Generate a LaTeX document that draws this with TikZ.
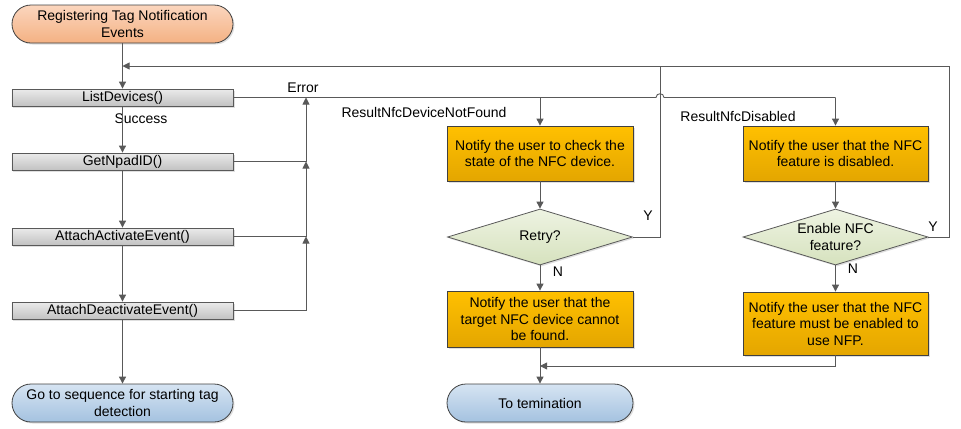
\documentclass[tikz,border=0pt]{standalone}
\usepackage{fontspec}
\setmainfont{Liberation Sans}
\usetikzlibrary{arrows.meta,shapes.geometric,shadows}
\definecolor{lineC}{HTML}{595959}
\definecolor{tipC}{HTML}{404040}
\tikzset{
  base/.style={draw=tipC, line width=0.8bp, inner sep=0pt, align=center,
    font=\fontsize{14bp}{16.5bp}\selectfont,
    drop shadow={opacity=0.25, shadow xshift=1.5bp, shadow yshift=-1.5bp}},
  procbox/.style={base, draw=lineC, rectangle, minimum width=221bp, minimum height=17bp,
    top color=white!92!black, bottom color=white!76!black},
  actbox/.style={base, rectangle, minimum width=186bp,
    top color={rgb,255:red,255;green,192;blue,0}, bottom color={rgb,255:red,228;green,166;blue,0}},
  startpill/.style={base, rectangle, rounded corners=19bp, minimum width=221bp, minimum height=38bp,
    top color={rgb,255:red,251;green,214;blue,190}, bottom color={rgb,255:red,244;green,177;blue,131}},
  endpill/.style={base, rectangle, rounded corners=19bp, minimum height=38bp,
    top color={rgb,255:red,214;green,228;blue,242}, bottom color={rgb,255:red,164;green,194;blue,224}},
  decide/.style={base, draw=lineC, diamond, aspect=3.3, minimum width=185bp, minimum height=56bp,
    top color={rgb,255:red,238;green,243;blue,226}, bottom color={rgb,255:red,214;green,226;blue,190}},
  conn/.style={draw=lineC, line width=0.9bp},
  arr/.style={conn, -{Triangle[length=7bp,width=7bp]}},
  lbl/.style={inner sep=0pt, font=\fontsize{14bp}{16bp}\selectfont},
}
\begin{document}
\begin{tikzpicture}[x=1bp,y=-1bp]
\useasboundingbox (0,0) rectangle (961,428);
% left column
\node[startpill] (start) at (122.5,24) {Registering Tag Notification\\Events};
\node[procbox] (ld) at (122.5,97.5) {ListDevices()};
\node[procbox] (gn) at (122.5,161.5) {GetNpadID()};
\node[procbox] (aa) at (122.5,236.5) {AttachActivateEvent()};
\node[procbox] (ad) at (122.5,310.5) {AttachDeactivateEvent()};
\node[endpill, minimum width=221bp] (endL) at (122.5,403) {Go to sequence for starting tag\\detection};
% middle column
\node[actbox, minimum height=55bp] (b1) at (540,153.5) {Notify the user to check the\\state of the NFC device.};
\node[decide] (d1) at (540,237) {Retry?};
\node[actbox, minimum height=56bp] (b3) at (540,319) {Notify the user that the\\target NFC device cannot\\be found.};
\node[endpill, minimum width=186bp] (endR) at (540,403) {To temination};
% right column
\node[actbox, minimum width=185bp, minimum height=55bp] (b2) at (835.5,153.5) {Notify the user that the NFC\\feature is disabled.};
\node[decide] (d2) at (835.5,237) {Enable NFC\\feature?};
\node[actbox, minimum width=185bp, minimum height=63bp] (b4) at (835.5,323.5) {Notify the user that the NFC\\feature must be enabled to\\use NFP.};
% helper coordinates
\coordinate (loopTop) at (122.5,66);
\coordinate (colX) at (306,0);
\coordinate (jumpX) at (660,0);
\coordinate (rightX) at (949,0);
\coordinate (merge) at (540,366);
% labels
\node[lbl] (lsucc) at (141,119) {Success};
\node[lbl] (lerr) at (303,88) {Error};
\node[lbl] (lnf) at (424,112) {ResultNfcDeviceNotFound};
\node[lbl] (ldis) at (738,116) {ResultNfcDisabled};
\node[lbl] (ly1) at (648,216) {Y};
\node[lbl] (ln1) at (558,272) {N};
\node[lbl] (ly2) at (933,227) {Y};
\node[lbl] (ln2) at (853,269) {N};
% main flow
\draw[arr] (start.south) -- (ld.north);
\draw[arr] (ld.south) -- (gn.north);
\draw[arr] (gn.south) -- (aa.north);
\draw[arr] (aa.south) -- (ad.north);
\draw[arr] (ad.south) -- (endL.north);
% error collectors
\draw[arr] (ad.east) -- (colX |- ad.east) -- (colX |- aa.east);
\draw[arr] (aa.east) -- (colX |- aa.east) -- (colX |- gn.east);
\draw[arr] (gn.east) -- (colX |- gn.east) -- (colX |- ld.east);
% error line to the right with a jump
\draw[conn] (ld.east) -- ([xshift=-4bp]jumpX |- ld.east)
  .. controls ([xshift=-4bp,yshift=5bp]jumpX |- ld.east) and ([xshift=4bp,yshift=5bp]jumpX |- ld.east) .. ([xshift=4bp]jumpX |- ld.east)
  -- (b2.north |- ld.east);
\draw[arr] (b2.north |- ld.east) -- (b2.north);
\draw[arr] (b1.north |- ld.east) -- (b1.north);
% middle column flow
\draw[arr] (b1.south) -- (d1.north);
\draw[arr] (d1.south) -- (b3.north);
\draw[arr] (b3.south) -- (endR.north);
% right column flow
\draw[arr] (b2.south) -- (d2.north);
\draw[arr] (d2.south) -- (b4.north);
\draw[arr] (b4.south) -- (b4.south |- merge) -- (merge);
% retry loops
\draw[conn] (d1.east) -- (jumpX |- d1.east) -- (jumpX |- loopTop);
\draw[arr] (d2.east) -- (rightX |- d2.east) -- (rightX |- loopTop) -- (loopTop);
\end{tikzpicture}
\end{document}
